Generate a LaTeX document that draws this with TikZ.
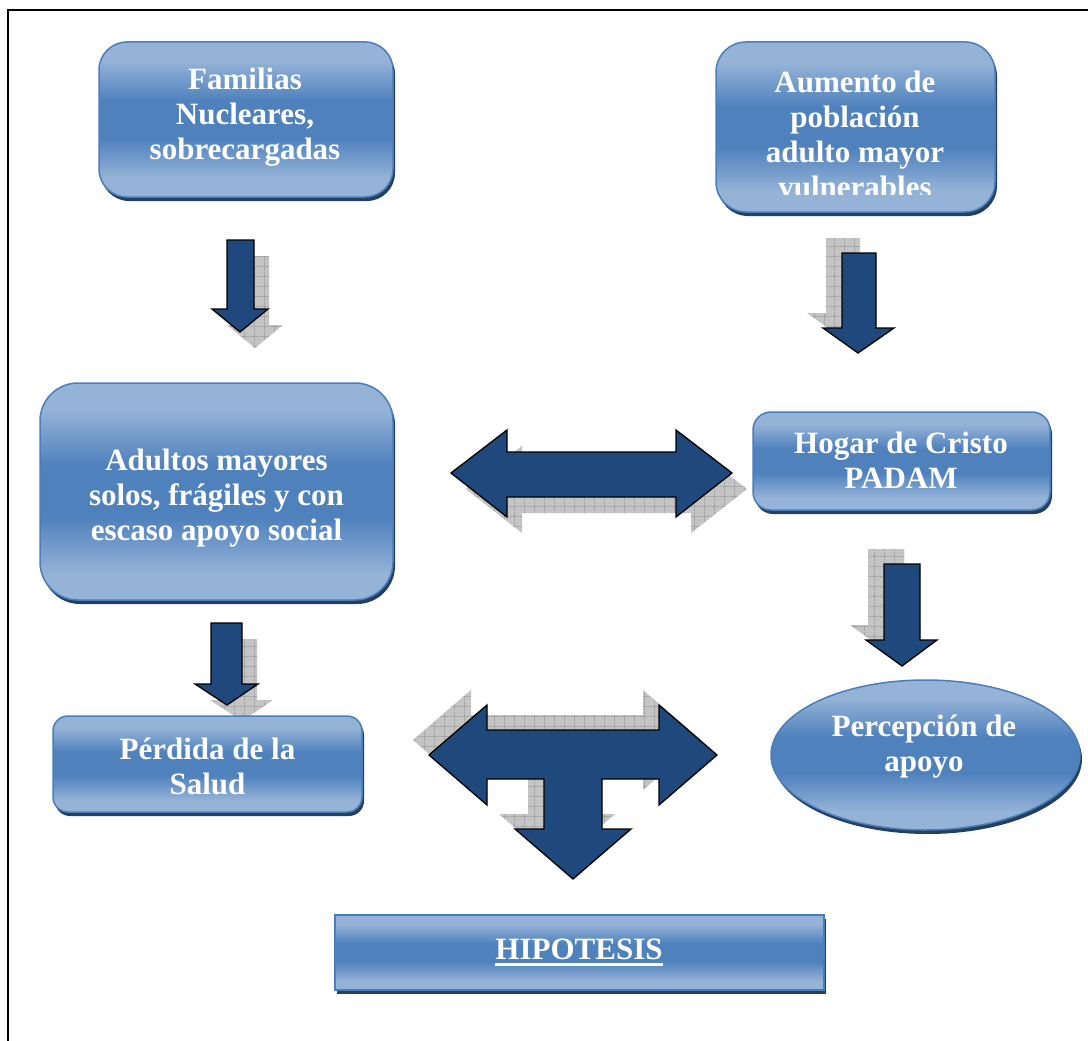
\documentclass[tikz,border=0pt]{standalone}
\usepackage{fontspec}
\setmainfont{Liberation Serif}
\usetikzlibrary{shapes.geometric,shadows,patterns.meta}

\definecolor{azulclaro}{RGB}{149,179,215}
\definecolor{azulmedio}{RGB}{79,129,189}
\definecolor{azulborde}{RGB}{74,125,187}
\definecolor{azulsombra}{RGB}{36,64,97}
\definecolor{azulflecha}{RGB}{31,73,125}
\definecolor{grissombra}{RGB}{196,196,196}

\pgfdeclareverticalshading{brillo}{100bp}{color(0bp)=(azulclaro); color(31bp)=(azulclaro); color(44bp)=(azulmedio); color(56bp)=(azulmedio); color(69bp)=(azulclaro); color(100bp)=(azulclaro)}

\tikzdeclarepattern{
  name=cuadricula,
  type=uncolored,
  bottom left={(0pt,0pt)},
  top right={(10pt,10pt)},
  tile size={(10pt,10pt)},
  code={\draw[line width=0.6pt] (0pt,5pt) -- (10pt,5pt) (5pt,0pt) -- (5pt,10pt);}
}

\tikzset{
  caja/.style={draw=azulborde, line width=1.5pt, shading=brillo, inner sep=0pt,
    drop shadow={shadow xshift=2pt, shadow yshift=-4pt, fill=azulsombra, opacity=1}},
  texto/.style={text=white, font=\bfseries\fontsize{31}{35}\selectfont, align=center, inner sep=0pt},
  flecha/.style={draw=black, line width=1.3pt, fill=azulflecha, line join=miter},
  flechasombra/.style={fill=grissombra, postaction={pattern=cuadricula, pattern color=black!40}}
}

\newcommand\subrayado[1]{\setbox0\hbox{#1}\rlap{\rule[-6pt]{\wd0}{3pt}}\box0}

\begin{document}
\begin{tikzpicture}[x=1pt,y=-1pt]
  \useasboundingbox[fill=white] (0,0) rectangle (1088,1041);
  \draw[line width=2.2pt] (8,1060) |- (1100,10);

  % flechas (sombra primero)
  \foreach \sx/\sy/\estilo in {15/16/flechasombra, 0/0/flecha} {
    \path[\estilo, shift={(\sx,\sy)}] (227,240) -- (254,240) -- (254,309) -- (268,309) -- (240,332) -- (212,309) -- (227,309) -- cycle;
    \path[\estilo, shift={(\sx,\sy)}] (211,623) -- (242,623) -- (242,684) -- (258,684) -- (227,705) -- (195,684) -- (211,684) -- cycle;
    \path[\estilo, shift={(\sx,\sy)}] (451,473) -- (507,430) -- (507,452) -- (676,452) -- (676,430) -- (732,473) -- (676,517) -- (676,497) -- (507,497) -- (507,517) -- cycle;
  }
  \foreach \sx/\sy/\estilo in {-16/-15/flechasombra, 0/0/flecha} {
    \path[\estilo, shift={(\sx,\sy)}] (842,253) -- (876,253) -- (876,328) -- (894,328) -- (858,353) -- (823,328) -- (842,328) -- cycle;
    \path[\estilo, shift={(\sx,\sy)}] (884,564) -- (920,564) -- (920,640) -- (937,640) -- (902,666) -- (866,640) -- (884,640) -- cycle;
    \path[\estilo, shift={(\sx,\sy)}] (429,755) -- (487,705) -- (487,730) -- (659,730) -- (659,705) -- (717,755)
      -- (659,805) -- (659,779) -- (602,779) -- (602,829) -- (631,829) -- (573,879) -- (515,829)
      -- (544,829) -- (544,779) -- (487,779) -- (487,805) -- cycle;
  }

  % cajas
  \node[caja, rounded corners=28pt, minimum width=294pt, minimum height=155pt] (familias) at (246,119.5) {};
  \node[caja, rounded corners=30pt, minimum width=279pt, minimum height=170pt] (aumento) at (855.5,127) {};
  \node[caja, rounded corners=38pt, minimum width=353pt, minimum height=217pt] (adultos) at (216.5,491.5) {};
  \node[caja, rounded corners=18pt, minimum width=297pt, minimum height=98pt] (hogar) at (901.5,461) {};
  \node[caja, rounded corners=15pt, minimum width=309pt, minimum height=96pt] (perdida) at (207.5,764) {};
  \node[caja, ellipse, minimum width=309pt, minimum height=150pt] (percepcion) at (925.5,755) {};
  \node[caja, minimum width=489pt, minimum height=75pt] (hipotesis) at (579.5,952.5) {};

  % textos
  \node[texto] (familiasT) at (245,117) {Familias\\Nucleares,\\sobrecargadas};
  \begin{scope}
    \clip (716,42) rectangle (995,194);
    \node[texto] (aumentoT) at (855,134.5) {Aumento de\\población\\adulto mayor\\vulnerables};
  \end{scope}
  \node[texto] (adultosT) at (216.5,498) {Adultos mayores\\solos, frágiles y con\\escaso apoyo social};
  \node[texto] (hogarT) at (901,460) {Hogar de Cristo\\PADAM};
  \node[texto] (perdidaT) at (207.5,766.5) {Pérdida de la\\Salud};
  \node[texto] (percepcionT) at (924,747) {Percepción de\\apoyo};
  \node[texto] (hipotesisT) at (579,952.5) {\subrayado{HIPOTESIS}};
\end{tikzpicture}
\end{document}
